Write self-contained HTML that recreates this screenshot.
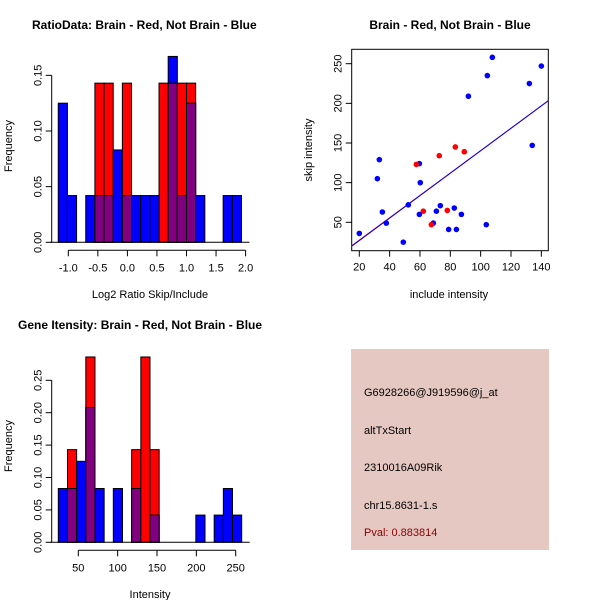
<!DOCTYPE html>
<html><head><meta charset="utf-8">
<style>
html,body{margin:0;padding:0;background:#fff;}
svg{display:block;font-family:"Liberation Sans",Arial,sans-serif;}
</style></head>
<body>
<svg id="chart" width="600" height="600" viewBox="0 0 600 600" xmlns="http://www.w3.org/2000/svg">
<rect x="0" y="0" width="600" height="600" fill="#fff"/>
<g id="p1"></g>
<g id="p2"></g>
<g id="p3"></g>
<g id="p4">
<rect x="351" y="349" width="198" height="201" fill="#e6c8c2"/>
<text x="364" y="396" font-size="11" fill="#000">G6928266@J919596@j_at</text>
<text x="364" y="434" font-size="11" fill="#000">altTxStart</text>
<text x="364" y="471" font-size="11" fill="#000">2310016A09Rik</text>
<text x="364" y="509" font-size="11" fill="#000">chr15.8631-1.s</text>
<text x="364" y="536" font-size="11" fill="#8b0000">Pval: 0.883814</text>
</g>
</svg>
<script>
// ---- Ratio histogram data ----
const ratioBinStart = -1.17;
const ratioBinWidth = 0.155;
const ratioBlue = [0.125,0.042,0,0.042,0.042,0.042,0.083,0.042,0.042,0.042,0.042,0,0.167,0.042,0.125,0.042,0,0,0.042,0.042];
const ratioRed  = [0,0,0,0,0.143,0.143,0,0.143,0,0,0,0.143,0.143,0.143,0.143,0,0,0,0,0];
const ratioXTicks = [-1.0,-0.5,0.0,0.5,1.0,1.5,2.0];
const ratioXTickLabels = ["-1.0","-0.5","0.0","0.5","1.0","1.5","2.0"];
const ratioYTicks = [0,0.05,0.10,0.15];
const ratioYTickLabels = ["0.00","0.05","0.10","0.15"];
// ---- Intensity histogram data ----
const intBinStart = 24.6;
const intBinWidth = 11.65;
const intBlue = [0.083,0.083,0.125,0.208,0.083,0,0.083,0,0.083,0,0.042,0,0,0,0,0.042,0,0.042,0.083,0.042];
const intRed  = [0,0.143,0,0.286,0,0,0,0,0.143,0.286,0.143,0,0,0,0,0,0,0,0,0];
const intXTicks = [50,100,150,200,250];
const intXTickLabels = ["50","100","150","200","250"];
const intYTicks = [0,0.05,0.10,0.15,0.20,0.25];
const intYTickLabels = ["0.00","0.05","0.10","0.15","0.20","0.25"];
// ---- Scatter data ----
const blueX = [20,31.9,33.2,35.2,37.8,49,52.3,59.6,59.6,60.2,68.8,70.8,73.4,78.9,82.6,84,87.3,91.9,103.7,104.4,107.7,132.1,134,140];
const blueY = [36,105,129,63,49,25,72,124,60,100,49,64,71,41,68,41,60,209,47,235,258,225,147,247];
const redX = [57.6,62.2,67.5,72.7,78,83.3,89.2];
const redY = [123,64,47,134,65,145,139];
const blueFit = [-1.4,1.416];
const redFit = [-0.6,1.41];
const scXTicks = [20,40,60,80,100,120,140];
const scXTickLabels = ["20","40","60","80","100","120","140"];
const scYTicks = [50,100,150,200,250];
const scYTickLabels = ["50","100","150","200","250"];

const NS="http://www.w3.org/2000/svg";
function mk(parent,tag,attrs,text){const e=document.createElementNS(NS,tag);for(const k in attrs)e.setAttribute(k,attrs[k]);if(text!==undefined)e.textContent=text;parent.appendChild(e);return e;}

function histogram(g,cfg){
  const sx=v=>cfg.x0px+(v-cfg.x0)*cfg.xs;
  const sy=v=>cfg.basePx-v*cfg.ys;
  for(let i=0;i<cfg.blue.length;i++){
    const l=cfg.binStart+i*cfg.binW, r=l+cfg.binW;
    const x=sx(l), w=sx(r)-sx(l);
    const b=cfg.blue[i], rd=cfg.red[i], m=Math.min(b,rd);
    if(b>0){const e=mk(g,'rect',{x:x,y:sy(b),width:w,height:sy(0)-sy(b),fill:'#0000ff',stroke:'#000','stroke-width':1});
      
      }
    if(rd>0){const e=mk(g,'rect',{x:x,y:sy(rd),width:w,height:sy(0)-sy(rd),fill:'#ff0000',stroke:'#000','stroke-width':1});
      
      }
    if(m>0){const e=mk(g,'rect',{x:x,y:sy(m),width:w,height:sy(0)-sy(m),fill:'#800080',stroke:'#000','stroke-width':1});
      
      
      if(b>m){mk(g,'line',{x1:x,x2:x+w,y1:sy(m),y2:sy(m),stroke:'#000'});}}
  }
  // baseline
  const bl=mk(g,'line',{x1:sx(cfg.binStart)-8,x2:sx(cfg.binStart+cfg.blue.length*cfg.binW)+8,y1:sy(0),y2:sy(0),stroke:'#000'});
  
  
  // x axis
  const axY=cfg.basePx+8;
  mk(g,'line',{x1:sx(cfg.xt[0]),x2:sx(cfg.xt[cfg.xt.length-1]),y1:axY,y2:axY,stroke:'#000'});
  cfg.xt.forEach((t,i)=>{mk(g,'line',{x1:sx(t),x2:sx(t),y1:axY,y2:axY+6,stroke:'#000'});
    const e=mk(g,'text',{x:sx(t),y:axY+21,'font-size':11,'text-anchor':'middle'},cfg.xl[i]);
    
    });
  // y axis
  const axX=51.7;
  mk(g,'line',{x1:axX,x2:axX,y1:sy(cfg.yt[0]),y2:sy(cfg.yt[cfg.yt.length-1]),stroke:'#000'});
  cfg.yt.forEach((t,i)=>{mk(g,'line',{x1:axX,x2:axX-6,y1:sy(t),y2:sy(t),stroke:'#000'});
    const e=mk(g,'text',{x:0,y:0,'font-size':11,'text-anchor':'middle',transform:`translate(${axX-10},${sy(t)}) rotate(-90)`},cfg.yl[i]);
    
    });
  const t=mk(g,'text',{x:cfg.titleX,y:cfg.titleY,'font-size':12,'font-weight':'bold'},cfg.title);
  
  
  const xl=mk(g,'text',{x:cfg.xlabX,y:cfg.xlabY,'font-size':11,'text-anchor':'middle'},cfg.xlab);
  
  
  const yl=mk(g,'text',{x:0,y:0,'font-size':11,'text-anchor':'middle',transform:`translate(12,${cfg.ylabY}) rotate(-90)`},'Frequency');
  
  
}

histogram(document.getElementById('p1'),{x0:-1,x0px:68.3,xs:59.1,basePx:242.3,ys:1113,binStart:ratioBinStart,binW:ratioBinWidth,blue:ratioBlue,red:ratioRed,xt:ratioXTicks,xl:ratioXTickLabels,yt:ratioYTicks,yl:ratioYTickLabels,title:'RatioData: Brain - Red, Not Brain - Blue',titleX:32,titleY:29,xlab:'Log2 Ratio Skip/Include',xlabX:150,xlabY:298,ylabY:146});
histogram(document.getElementById('p3'),{x0:50,x0px:78.3,xs:0.787,basePx:542.3,ys:648,binStart:intBinStart,binW:intBinWidth,blue:intBlue,red:intRed,xt:intXTicks,xl:intXTickLabels,yt:intYTicks,yl:intYTickLabels,title:'Gene Itensity: Brain - Red, Not Brain - Blue',titleX:18,titleY:329,xlab:'Intensity',xlabX:150,xlabY:598,ylabY:446});

// scatter
(function(){
  const g=document.getElementById('p2');
  const sx=v=>359.3+(v-20)*1.517;
  const sy=v=>222.3-(v-50)*0.793;
  const L=351.7,R=548.3,T=49.3,B=250.7;
  const box=mk(g,'rect',{x:L,y:T,width:R-L,height:B-T,fill:'none',stroke:'#000'});
  
  
  const clip=mk(g,'clipPath',{id:'scclip'});mk(clip,'rect',{x:L,y:T,width:R-L,height:B-T});
  const lg=mk(g,'g',{'clip-path':'url(#scclip)'});
  const xa=(L-359.3)/1.517+20, xb=(R-359.3)/1.517+20;
  const rl=mk(lg,'line',{x1:sx(xa),y1:sy(redFit[0]+redFit[1]*xa),x2:sx(xb),y2:sy(redFit[0]+redFit[1]*xb),stroke:'#ff0000'});
  
  
  const bll=mk(lg,'line',{x1:sx(xa),y1:sy(blueFit[0]+blueFit[1]*xa),x2:sx(xb),y2:sy(blueFit[0]+blueFit[1]*xb),stroke:'#0000ff'});
  
  
  blueX.forEach((x,i)=>{const c=mk(g,'circle',{cx:sx(x),cy:sy(blueY[i]),r:2.8,fill:'#0000ff'});
    
    });
  redX.forEach((x,i)=>{const c=mk(g,'circle',{cx:sx(x),cy:sy(redY[i]),r:2.8,fill:'#ff0000'});
    
    });
  scXTicks.forEach((t,i)=>{mk(g,'line',{x1:sx(t),x2:sx(t),y1:B,y2:B+6,stroke:'#000'});
    const e=mk(g,'text',{x:sx(t),y:B+20,'font-size':11,'text-anchor':'middle'},scXTickLabels[i]);
    
    });
  scYTicks.forEach((t,i)=>{mk(g,'line',{x1:L,x2:L-6,y1:sy(t),y2:sy(t),stroke:'#000'});
    const e=mk(g,'text',{x:0,y:0,'font-size':11,'text-anchor':'middle',transform:`translate(${L-10},${sy(t)}) rotate(-90)`},scYTickLabels[i]);
    
    });
  const t=mk(g,'text',{x:450,y:29,'font-size':12,'font-weight':'bold','text-anchor':'middle'},'Brain - Red, Not Brain - Blue');
  
  
  const xl=mk(g,'text',{x:449,y:298,'font-size':11,'text-anchor':'middle'},'include intensity');
  
  
  const yl=mk(g,'text',{x:0,y:0,'font-size':11,'text-anchor':'middle',transform:'translate(312,150) rotate(-90)'},'skip intensity');
  
  
})();
</script>
</body></html>
